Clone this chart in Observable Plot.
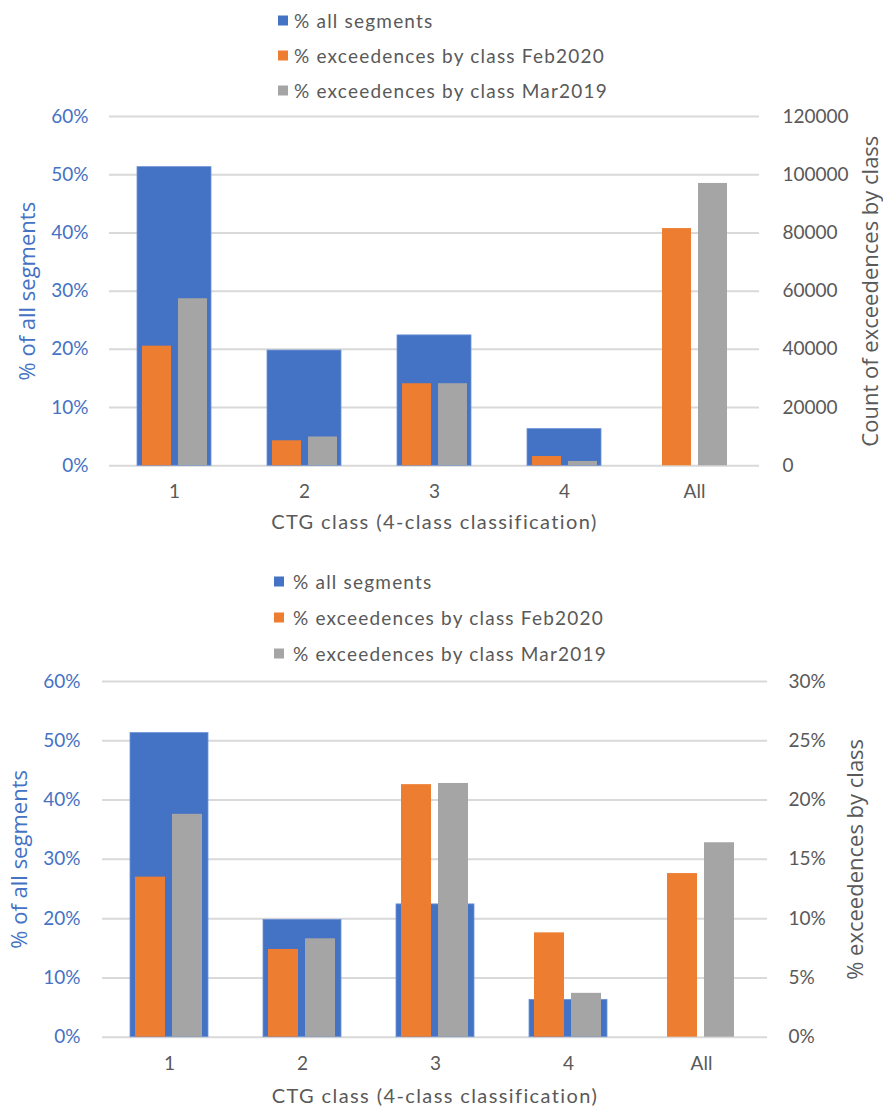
<!DOCTYPE html>
<html>
<head>
<meta charset="utf-8">
<script src="https://cdn.jsdelivr.net/npm/d3@7"></script>
<script src="https://cdn.jsdelivr.net/npm/@observablehq/plot@0.6"></script>
<style>
  html, body { margin: 0; padding: 0; background: #fff; }
  #root { position: relative; width: 883px; height: 1117px; overflow: hidden; background: #fff; }
  .chart { position: absolute; left: 0; }
  .legend { position: absolute; font-family: Lato, sans-serif; font-size: 19px; letter-spacing: 1.2px; color: #595959; }
  .legend .item { position: absolute; white-space: nowrap; display: flex; align-items: center; transform: translateY(-50%); }
  .legend .sw { width: 10px; height: 10px; margin-right: 5px; display: inline-block; }
</style>
</head>
<body>
<div id="root"></div>
<script>
// ---- data ----
const categories = ["1", "2", "3", "4", "All"];
const allSegments = [0.513, 0.198, 0.224, 0.063, null];          // % all segments (left axis)
const countFeb2020 = [41100, 8600, 28200, 3200, 81500];          // top chart, right axis (count)
const countMar2019 = [57400, 9900, 28200, 1500, 97000];
const pctFeb2020 = [0.135, 0.074, 0.213, 0.088, 0.138];          // bottom chart, right axis (%)
const pctMar2019 = [0.188, 0.083, 0.214, 0.037, 0.164];
const leftTicks = [0, 0.1, 0.2, 0.3, 0.4, 0.5, 0.6];
const rightTicksTop = [0, 20000, 40000, 60000, 80000, 100000, 120000];
const rightTicksBottom = [0, 0.05, 0.10, 0.15, 0.20, 0.25, 0.30];
const legendLabels = ["% all segments", "% exceedences by class Feb2020", "% exceedences by class Mar2019"];
const xTitle = "CTG class (4-class classification)";
const leftTitle = "% of all segments";
const rightTitleTop = "Count of exceedences by class";
const rightTitleBottom = "% exceedences by class";

const BLUE = "#4472C4", ORANGE = "#ED7D31", GRAY = "#A5A5A5", TEXT = "#595959", GRID = "#D9D9D9";
const legendColors = [BLUE, ORANGE, GRAY];

function chart(cfg) {
  const k = 0.6 / cfg.rightMax;
  const rows = categories.map((c, i) => ({cat: c, seg: allSegments[i], feb: cfg.feb[i], mar: cfg.mar[i]}));
  const W = 883;
  const step = (cfg.plotRight - cfg.plotLeft) / categories.length;
  const bw = cfg.blueW;
  const pi = 1 - bw / step;
  const svg = Plot.plot({
    width: W,
    height: cfg.height,
    marginLeft: cfg.plotLeft,
    marginRight: W - cfg.plotRight,
    marginTop: cfg.plotTop,
    marginBottom: cfg.height - cfg.plotBottom,
    x: {domain: categories, paddingInner: pi, paddingOuter: pi / 2, axis: null},
    y: {domain: [0, 0.6], axis: null},
    style: {fontFamily: "Lato, sans-serif", fontSize: "19px", background: "transparent", overflow: "visible"},
    marks: [
      Plot.ruleY(leftTicks, {stroke: GRID, strokeWidth: 2}),
      Plot.barY(rows.filter(d => d.seg != null), {x: "cat", y: "seg", fill: BLUE, stroke: "#6f93d6", strokeWidth: 0.8}),
      Plot.barY(rows, {x: "cat", y: d => d.feb * k, fill: ORANGE, insetLeft: cfg.oL, insetRight: bw - cfg.oL - cfg.nw}),
      Plot.barY(rows, {x: "cat", y: d => d.mar * k, fill: GRAY, insetLeft: bw - cfg.gR - cfg.nw, insetRight: cfg.gR}),
      Plot.axisY(leftTicks, {anchor: "left", tickSize: 0, tickPadding: cfg.lPad, tickFormat: d3.format(".0%"), fill: BLUE, label: null}),
      Plot.axisY(cfg.rightTicks.map(v => v * k), {anchor: "right", tickSize: 0, tickPadding: cfg.rPad, tickFormat: cfg.rightFormat(k), fill: TEXT, label: null}),
      Plot.axisX({tickSize: 0, tickPadding: 19, fill: TEXT, label: null}),
      Plot.text([xTitle], {frameAnchor: "bottom", dy: cfg.xTitleDy, textAnchor: "middle", fill: TEXT, fontSize: 20}),
      Plot.text([leftTitle], {frameAnchor: "left", dx: cfg.leftTitleDx, rotate: -90, textAnchor: "middle", fill: BLUE, fontSize: 22, fontFamily: "Open Sans, sans-serif"}),
      Plot.text([cfg.rightTitle], {frameAnchor: "right", dx: cfg.rightTitleDx, rotate: -90, textAnchor: "middle", fill: TEXT, fontSize: 22, fontFamily: "Open Sans, sans-serif"})
    ]
  });
  d3.select(svg).selectAll("text").filter(function () { return this.textContent === xTitle; })
    .attr("letter-spacing", "1.4px");
  return svg;
}

function legend(top, sqLeft, textLeft, rowsY) {
  const div = document.createElement("div");
  div.className = "legend";
  div.style.top = top + "px";
  div.style.left = "0px";
  legendLabels.forEach((lab, i) => {
    const it = document.createElement("div");
    it.className = "item";
    it.style.left = sqLeft + "px";
    it.style.top = rowsY[i] + "px";
    const sw = document.createElement("span");
    sw.className = "sw";
    sw.style.background = legendColors[i];
    sw.style.marginRight = (textLeft - sqLeft - 10) + "px";
    const tx = document.createElement("span");
    tx.textContent = lab;
    it.appendChild(sw);
    it.appendChild(tx);
    div.appendChild(it);
  });
  return div;
}

const root = document.getElementById("root");

const top1 = chart({
  height: 550, plotLeft: 109, plotRight: 759, plotTop: 116, plotBottom: 465.3,
  blueW: 74, nw: 29, oL: 5, gR: 4,
  feb: countFeb2020, mar: countMar2019, rightMax: 120000, rightTicks: rightTicksTop,
  rightFormat: k => v => String(Math.round(v / k)),
  lPad: 21, rPad: 23, xTitleDy: 63, leftTitleDx: -82, rightTitleDx: 111,
  rightTitle: rightTitleTop
});
top1.classList.add("chart");
top1.style.top = "0px";
root.appendChild(top1);
root.appendChild(legend(0, 278, 294, [20, 55, 90]));

const bot = chart({
  height: 567, plotLeft: 102, plotRight: 767, plotTop: 131, plotBottom: 486.7,
  blueW: 78, nw: 30, oL: 5, gR: 6,
  feb: pctFeb2020, mar: pctMar2019, rightMax: 0.30, rightTicks: rightTicksBottom,
  rightFormat: k => v => Math.round(v / k * 100) + "%",
  lPad: 22, rPad: 21, xTitleDy: 66, leftTitleDx: -83, rightTitleDx: 88,
  rightTitle: rightTitleBottom
});
bot.classList.add("chart");
bot.style.top = "550px";
root.appendChild(bot);
root.appendChild(legend(550, 274, 293, [31, 67, 103]));
</script>
</body>
</html>
